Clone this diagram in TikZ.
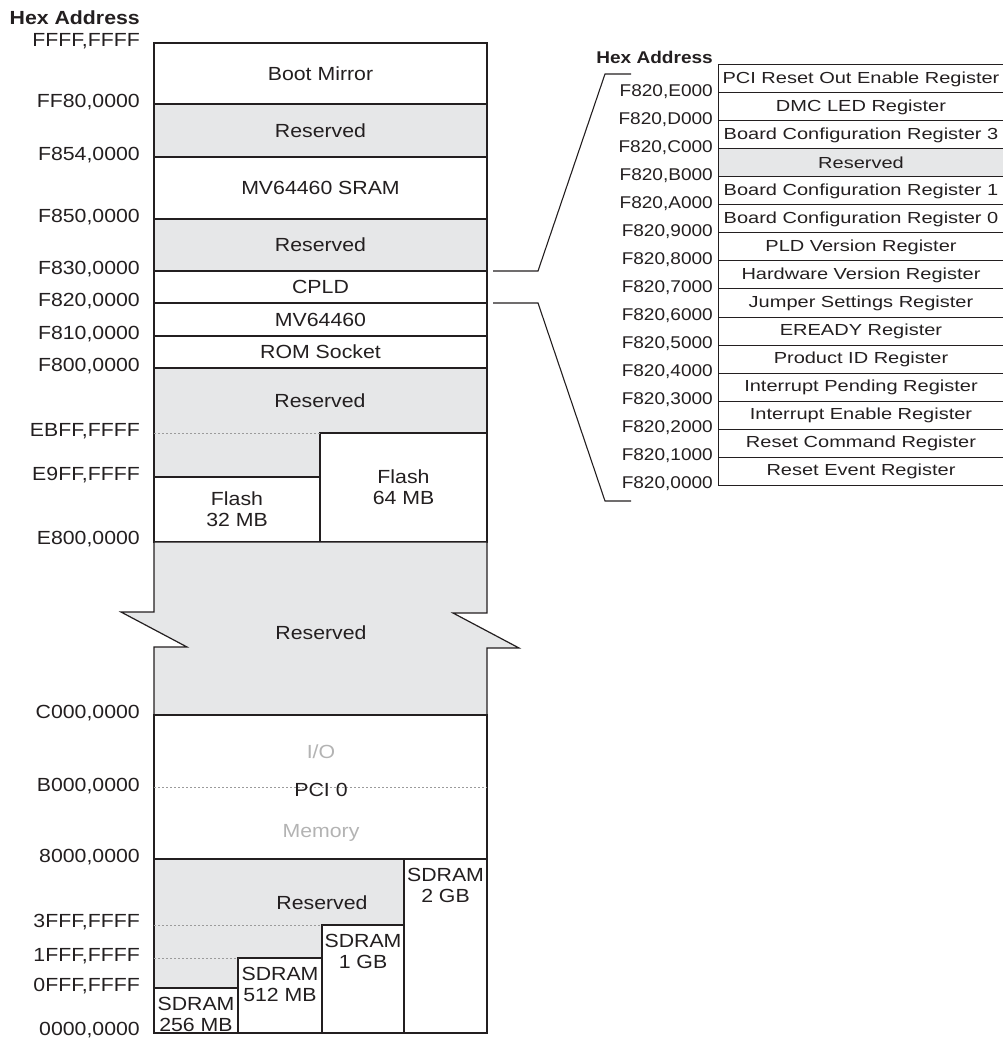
\documentclass[tikz,border=0pt]{standalone}
\usepackage{fontspec}
\setmainfont{Liberation Sans}[FakeStretch=1.12]
\newfontfamily\regfont{Liberation Sans}[FakeStretch=1.25]
\usetikzlibrary{positioning}
\definecolor{Map_Ink}{HTML}{231F20}
\definecolor{Map_Gray}{HTML}{E6E7E8}
\definecolor{Map_Dot}{HTML}{9B9B9B}
\definecolor{Map_Faint}{HTML}{B3B3B3}

\begin{document}
\begin{tikzpicture}[
    x=1pt, y=-1pt,
    every node/.style={text=Map_Ink},
    region/.style={draw=Map_Ink, line width=1.2pt, minimum width=333pt, inner sep=0pt, outer sep=0pt, anchor=north west, align=center, font=\fontsize{19}{21}\selectfont},
    txt/.style={inner sep=0pt, align=center, font=\fontsize{19}{21}\selectfont},
    addr/.style={anchor=east, inner sep=0pt, font=\fontsize{19}{21}\selectfont},
    regaddr/.style={anchor=east, inner sep=0pt, font=\fontsize{17}{19}\selectfont},
    regrow/.style={draw=Map_Ink, line width=1pt, minimum width=286pt, minimum height=28pt, inner sep=0pt, outer sep=0pt, anchor=north west, font=\regfont\fontsize{16}{18}\selectfont},
    dotline/.style={draw=Map_Dot, line width=0.8pt, dash pattern=on 2pt off 2pt},
    conn/.style={draw=Map_Ink, line width=1.1pt},
    sdram/.style={region, fill=white, label={[txt, anchor=north, yshift=-9pt]north:{SDRAM\\#1}}}
]
\useasboundingbox (0,0) rectangle (1002,1040);
\node[addr, font={\fontsize{19}{21}\selectfont\bfseries}] (hexL) at (140,18) {Hex Address};
\node[region, minimum height=61pt] (boot) at (154,43) {Boot Mirror};
\node[region, fill=Map_Gray, minimum height=53pt] (res1) at (154,104) {Reserved};
\node[region, minimum height=62pt] (sram) at (154,157) {MV64460 SRAM};
\node[region, fill=Map_Gray, minimum height=52pt] (res2) at (154,219) {Reserved};
\node[region, minimum height=32pt] (cpld) at (154,271) {CPLD};
\node[region, minimum height=33pt] (mv) at (154,303) {MV64460};
\node[region, minimum height=32pt] (rom) at (154,336) {ROM Socket};
\node[region, fill=Map_Gray, minimum height=174pt] (res3) at (154,368) {};
\node[txt] (res3txt) at (320,401) {Reserved};
\node[region, fill=white, minimum width=167pt, minimum height=109pt] (flash64) at (320,433) {Flash\\64 MB};
\node[region, fill=white, minimum width=166pt, minimum height=65pt] (flash32) at (154,477) {Flash\\32 MB};
\draw[dotline] (res3.west |- flash64.north west) -- (flash64.north west);
\draw[draw=Map_Ink, line width=1.2pt, fill=Map_Gray] (154,542) -- (487,542) -- (487,613) -- (453,613) -- (519,648) -- (487,648) -- (487,715) -- (154,715) -- (154,647) -- (187,647) -- (121,612) -- (154,612) -- cycle;
\node[txt] (res4) at (321,633) {Reserved};
\node[region, minimum height=144pt] (pci) at (154,715) {};
\draw[dotline] (pci.west) -- (pci.east);
\node[txt, text=Map_Faint] (io) at (321,752) {I/O};
\node[txt] (pcitxt) at (321,790) {PCI 0};
\node[txt, text=Map_Faint] (mem) at (321,833) {Memory};
\node[region, fill=Map_Gray, minimum width=250pt, minimum height=174pt] (res5) at (154,859) {};
\node[txt] (res5txt) at (322,903) {Reserved};
\node[sdram=2 GB, minimum width=83pt, minimum height=174pt] (sd2g) at (404,859) {};
\node[sdram=1 GB, minimum width=82pt, minimum height=108pt] (sd1g) at (322,925) {};
\node[sdram=512 MB, minimum width=84pt, minimum height=75pt] (sd512) at (238,958) {};
\node[sdram=256 MB, minimum width=84pt, minimum height=45pt] (sd256) at (154,988) {};
\draw[dotline] (res5.west |- sd1g.north) -- (sd1g.north west);
\draw[dotline] (res5.west |- sd512.north) -- (sd512.north west);
\node[addr] (aFFFF) at (140,41) {FFFF,FFFF};
\node[addr] (aFF80) at (140,102) {FF80,0000};
\node[addr] (aF854) at (140,155) {F854,0000};
\node[addr] (aF850) at (140,217) {F850,0000};
\node[addr] (aF830) at (140,269) {F830,0000};
\node[addr] (aF820) at (140,301) {F820,0000};
\node[addr] (aF810) at (140,334) {F810,0000};
\node[addr] (aF800) at (140,366) {F800,0000};
\node[addr] (aEBFF) at (140,431) {EBFF,FFFF};
\node[addr] (aE9FF) at (140,475) {E9FF,FFFF};
\node[addr] (aE800) at (140,539) {E800,0000};
\node[addr] (aC000) at (140,713) {C000,0000};
\node[addr] (aB000) at (140,786) {B000,0000};
\node[addr] (a8000) at (140,857) {8000,0000};
\node[addr] (a3FFF) at (140,922) {3FFF,FFFF};
\node[addr] (a1FFF) at (140,956) {1FFF,FFFF};
\node[addr] (a0FFF) at (140,986) {0FFF,FFFF};
\node[addr] (a0000) at (140,1030) {0000,0000};
\node[addr, font={\fontsize{17}{19}\selectfont\bfseries}] (hexR) at (713,57) {Hex Address};
\node[regrow] (r0) at (718,65) {PCI Reset Out Enable Register};
\node[regrow] (r1) at (718,93) {DMC LED Register};
\node[regrow] (r2) at (718,121) {Board Configuration Register 3};
\node[regrow, fill=Map_Gray] (r3) at (718,149) {Reserved};
\node[regrow] (r4) at (718,177) {Board Configuration Register 1};
\node[regrow] (r5) at (718,205) {Board Configuration Register 0};
\node[regrow] (r6) at (718,233) {PLD Version Register};
\node[regrow] (r7) at (718,261) {Hardware Version Register};
\node[regrow] (r8) at (718,289) {Jumper Settings Register};
\node[regrow] (r9) at (718,317) {EREADY Register};
\node[regrow] (r10) at (718,345) {Product ID Register};
\node[regrow] (r11) at (718,373) {Interrupt Pending Register};
\node[regrow] (r12) at (718,401) {Interrupt Enable Register};
\node[regrow] (r13) at (718,429) {Reset Command Register};
\node[regrow] (r14) at (718,457) {Reset Event Register};
\node[regaddr] (bE) at (713,92) {F820,E000};
\node[regaddr] (bD) at (713,120) {F820,D000};
\node[regaddr] (bC) at (713,148) {F820,C000};
\node[regaddr] (bB) at (713,176) {F820,B000};
\node[regaddr] (bA) at (713,204) {F820,A000};
\node[regaddr] (b9) at (713,232) {F820,9000};
\node[regaddr] (b8) at (713,260) {F820,8000};
\node[regaddr] (b7) at (713,288) {F820,7000};
\node[regaddr] (b6) at (713,316) {F820,6000};
\node[regaddr] (b5) at (713,344) {F820,5000};
\node[regaddr] (b4) at (713,372) {F820,4000};
\node[regaddr] (b3) at (713,400) {F820,3000};
\node[regaddr] (b2) at (713,428) {F820,2000};
\node[regaddr] (b1) at (713,456) {F820,1000};
\node[regaddr] (b0) at (713,484) {F820,0000};
\coordinate (kneeT) at (605,74);
\coordinate (tipT) at (631,74);
\coordinate (kneeB) at (605,501);
\coordinate (tipB) at (631,501);
\draw[conn] ([xshift=6pt]cpld.north east) -- ++(45,0) -- (kneeT) -- (tipT);
\draw[conn] ([xshift=6pt]cpld.south east) -- ++(45,0) -- (kneeB) -- (tipB);
\end{tikzpicture}
\end{document}
